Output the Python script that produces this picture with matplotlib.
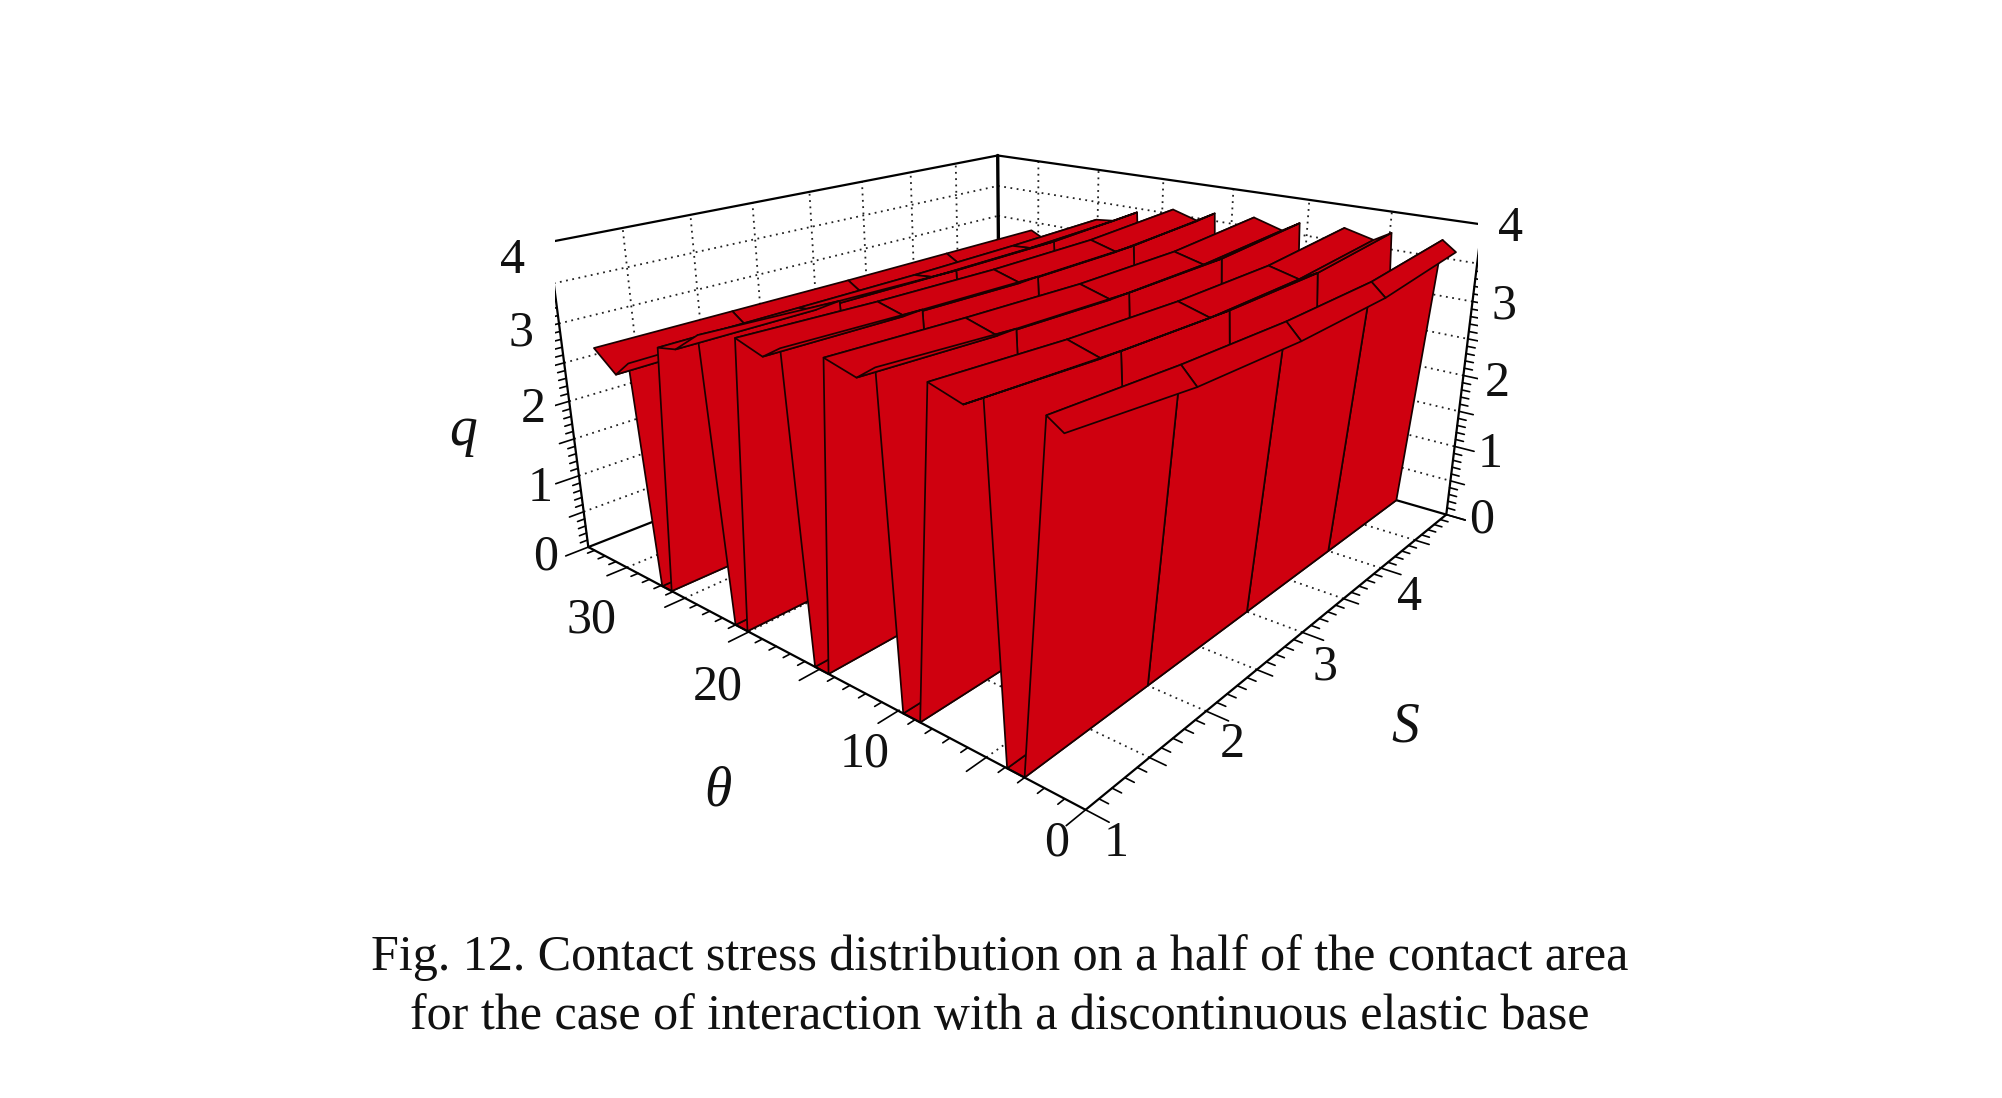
import numpy as np
import matplotlib
matplotlib.use("Agg")
import matplotlib.pyplot as plt
from mpl_toolkits.mplot3d import proj3d

plt.rcParams['font.family'] = ['Liberation Serif', 'DejaVu Serif']

# axes
s_values = [1, 2, 3, 4, 5]
theta_max = 33.6
q_max = 4
theta_labels = [0, 10, 20, 30]
s_labels = [1, 2, 3, 4]
q_labels = [0, 1, 2, 3, 4]

# surface mesh, one row per theta, columns are S = 1..5
theta_values = [1.2, 2.0, 3.0, 3.9, 4.9, 5.9, 7.7, 8.7, 9.7, 10.5, 11.6, 13.5,
                14.4, 15.3, 16.2, 17.4, 19.2, 20.1, 21.0, 21.9, 23.7, 25.1,
                26.1, 26.9, 27.7, 28.9, 30.6]
q_values = [
    [3.58, 3.43, 3.39, 3.43, 3.60],
    [3.69, 3.61, 3.57, 3.59, 3.73],
    [0, 0, 0, 0, 0],
    [0, 0, 0, 0, 0],
    [3.68, 3.60, 3.56, 3.58, 3.72],
    [3.56, 3.47, 3.43, 3.46, 3.59],
    [3.67, 3.58, 3.54, 3.56, 3.69],
    [0, 0, 0, 0, 0],
    [0, 0, 0, 0, 0],
    [3.66, 3.56, 3.52, 3.54, 3.66],
    [3.50, 3.43, 3.39, 3.42, 3.52],
    [3.60, 3.54, 3.50, 3.52, 3.64],
    [0, 0, 0, 0, 0],
    [0, 0, 0, 0, 0],
    [3.56, 3.51, 3.48, 3.50, 3.61],
    [3.41, 3.38, 3.35, 3.37, 3.46],
    [3.52, 3.47, 3.45, 3.47, 3.57],
    [0, 0, 0, 0, 0],
    [0, 0, 0, 0, 0],
    [3.42, 3.36, 3.33, 3.35, 3.44],
    [3.17, 3.17, 3.17, 3.19, 3.25],
    [3.12, 3.13, 3.14, 3.17, 3.22],
    [0, 0, 0, 0, 0],
    [0, 0, 0, 0, 0],
    [2.80, 2.82, 2.83, 2.85, 2.90],
    [2.60, 2.62, 2.64, 2.66, 2.70],
    [2.84, 2.84, 2.84, 2.85, 2.86],
]

fig = plt.figure(figsize=(20.02, 10.98), dpi=100)
ax = fig.add_axes([0.27725, 0.21504, 0.46094, 0.84044], projection='3d')
ax.set_xlim(1, 5, view_margin=0)
ax.set_ylim(0, theta_max, view_margin=0)
ax.set_zlim(0, q_max, view_margin=0)
ax.view_init(elev=19.82, azim=219.99)
ax.set_proj_type('persp', focal_length=0.2541)
ax.set_box_aspect((2.0052, 2.0152, 1.0))
ax.set_axis_off()
ax.computed_zorder = False


def line(p0, p1, z=1, **kw):
    style = dict(color='black', lw=1.6, solid_capstyle='round')
    style.update(kw)
    ax.plot([p0[0], p1[0]], [p0[1], p1[1]], [p0[2], p1[2]], zorder=z, **style)


dots = dict(lw=1.3, ls=(0, (1, 2.5)), color='#222222')

# dotted grid on the back walls and the floor
for q in np.arange(0.5, q_max, 0.5):
    line((1, theta_max, q), (5, theta_max, q), **dots)
    line((5, theta_max, q), (5, 0, q), **dots)
for s in np.arange(1.5, 5, 0.5):
    line((s, theta_max, 0), (s, theta_max, q_max), **dots)
    line((s, 0, 0), (s, theta_max, 0), **dots)
for t in range(5, 35, 5):
    line((5, t, 0), (5, t, q_max), **dots)
    line((1, t, 0), (5, t, 0), **dots)

# box edges behind the surface
line((1, theta_max, q_max), (5, theta_max, q_max))
line((5, theta_max, q_max), (5, 0, q_max))
line((5, theta_max, 0), (5, theta_max, q_max), lw=2.4)
line((1, theta_max, 0), (5, theta_max, 0))
line((5, theta_max, 0), (5, 0, 0))

X, Y = np.meshgrid(s_values, theta_values)
Z = np.array(q_values)
ax.plot_surface(X, Y, Z, rstride=1, cstride=1, color='#cf000f', edgecolor='#1a0000',
                linewidth=1.25, shade=False, antialiased=True, zorder=2)

# front axes with their ticks
line((1, 0, 0), (1, theta_max, 0), z=3)
line((1, 0, 0), (5, 0, 0), z=3)
line((1, theta_max, 0), (1, theta_max, q_max), z=3)
line((5, 0, 0), (5, 0, q_max), z=3)
for t in np.arange(0, theta_max, 1.0):
    size = 0.14 if t % 5 == 0 else 0.05
    line((1, t, 0), (1 - size, t, 0), z=3, lw=1.2)
for s in np.arange(1, 5.01, 0.1):
    size = 1.1 if abs(s - round(s)) < 0.01 else 0.8 if abs(2 * s - round(2 * s)) < 0.01 else 0.45
    line((s, 0, 0), (s, -size, 0), z=3, lw=1.2)
for q in np.arange(0, q_max + 0.01, 0.1):
    major = abs(q - round(q)) < 0.01
    half = abs(2 * q - round(2 * q)) < 0.01
    line((1, theta_max, q), (1 - (0.16 if major else 0.1 if half else 0.05), theta_max, q), z=3, lw=1.2)
    line((5, 0, q), (5, -(1.1 if major else 0.8 if half else 0.45), q), z=3, lw=1.2)

fig.canvas.draw()
M = ax.get_proj()


def tick_label(text, x, y, z, offset):
    px, py, _ = proj3d.proj_transform(x, y, z, M)
    ax.annotate(text, xy=(px, py), xytext=offset, textcoords='offset pixels',
                ha='center', va='center', annotation_clip=False, fontsize=36, color='#111111')


theta_offsets = [(-29, -33), (-34, -43), (-31, -55), (-35, -53)]
s_offsets = [(31, -34), (26, -34), (23, -35), (29, -30)]
q_left_offsets = [(-43, -10), (-39, -13), (-36, -8), (-38, -10), (-36, -18)]
q_right_offsets = [(35, -6), (35, -8), (34, -8), (31, -5), (29, -4)]

for t, off in zip(theta_labels, theta_offsets):
    tick_label(str(t), 1, t, 0, off)
for s, off in zip(s_labels, s_offsets):
    tick_label(str(s), s, 0, 0, off)
for q, off_l, off_r in zip(q_labels, q_left_offsets, q_right_offsets):
    tick_label(str(q), 1, theta_max, q, off_l)
    tick_label(str(q), 5, 0, q, off_r)

fig.text(463 / 2002, 1 - 431 / 1098, 'q', style='italic', fontsize=40, ha='center', va='center', color='#111111')
fig.text(718 / 2002, 1 - 791 / 1098, 'θ', style='italic', fontsize=40, ha='center', va='center', color='#111111')
fig.text(1405 / 2002, 1 - 728 / 1098, 'S', style='italic', fontsize=40, ha='center', va='center', color='#111111')

fig.text(1000 / 2002, 1 - 970 / 1098, 'Fig. 12. Contact stress distribution on a half of the contact area',
         fontsize=36.1, ha='center', va='baseline', color='#111111')
fig.text(1000 / 2002, 1 - 1029 / 1098, 'for the case of interaction with a discontinuous elastic base',
         fontsize=36.1, ha='center', va='baseline', color='#111111')

fig.savefig('out.png', dpi=100)
